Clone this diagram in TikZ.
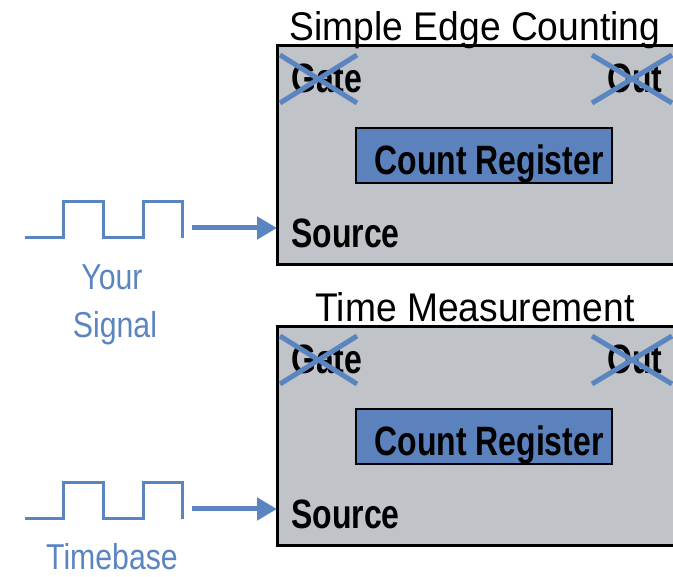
\documentclass[tikz,border=0pt]{standalone}
\usepackage{fontspec}
\setmainfont{Liberation Sans}
\newfontfamily\labfont{Liberation Sans}[FakeStretch=0.78]
\newfontfamily\bluefont{Liberation Sans}[FakeStretch=0.84]
\newfontfamily\titlefont{Liberation Sans}[FakeStretch=0.93]
\usetikzlibrary{arrows.meta}
\definecolor{sigblue}{RGB}{91,133,192}
\definecolor{boxgray}{RGB}{192,195,199}
\definecolor{regblue}{RGB}{92,130,190}
\tikzset{
  counterbox/.style={draw=black, line width=3pt, fill=boxgray},
  regbox/.style={draw=black, line width=2pt, fill=regblue, inner sep=0pt},
  lab/.style={inner sep=0pt, font=\labfont\bfseries\fontsize{41}{41}\selectfont},
  reglab/.style={inner sep=0pt, font=\labfont\bfseries\fontsize{41}{41}\selectfont},
  ttl/.style={inner sep=0pt, font=\titlefont\fontsize{40}{40}\selectfont, anchor=base},
  bluelab/.style={inner sep=0pt, text=sigblue, font=\bluefont\fontsize{36}{36}\selectfont, anchor=base},
  wave/.style={draw=sigblue, line width=3pt},
  cross/.style={draw=sigblue, line width=5pt},
  sigarrow/.style={draw=sigblue, line width=5pt, -{Triangle[length=20pt,width=22pt]}}
}
\begin{document}
\begin{tikzpicture}[x=1pt,y=-1pt]
\useasboundingbox (0,0) rectangle (673,577);
\clip (0,0) rectangle (673,577);
\foreach \dy/\name/\ttltext in {0/A/Simple Edge Counting, 281/B/Time Measurement} {
  \begin{scope}[yshift=-\dy pt]
    \draw[counterbox] (277,46) rectangle (690,265);
    \coordinate (src\name) at (277,228);
    \node[ttl] (title\name) at (475,41) {\ttltext};
    \node[regbox, minimum width=256pt, minimum height=55pt] (reg\name) at (484,156) {};
    \node[reglab, anchor=base] (reglab\name) at (489,175) {Count Register};
    \node[lab, anchor=base west] (gate\name) at (291,93) {Gate};
    \node[lab, anchor=base west] (out\name) at (607,93) {Out};
    \node[lab, anchor=base west] (source\name) at (291,248) {Source};
    \draw[cross] (280,55) -- (357,103);
    \draw[cross] (357,55) -- (280,103);
    \draw[cross] (592,55) -- (672,103);
    \draw[cross] (672,55) -- (592,103);
    \draw[wave] (25,238) -- (63,238) -- (63,202) -- (103,202) -- (103,238) -- (143,238) -- (143,202) -- (182,202) -- (182,238);
    \coordinate (wave\name) at (192,228);
    \draw[sigarrow] (wave\name) -- (src\name);
  \end{scope}
}
\node[bluelab] (your) at (112,290) {Your};
\node[bluelab] (signal) at (115,338) {Signal};
\node[bluelab] (timebase) at (112,569) {Timebase};
\end{tikzpicture}
\end{document}
